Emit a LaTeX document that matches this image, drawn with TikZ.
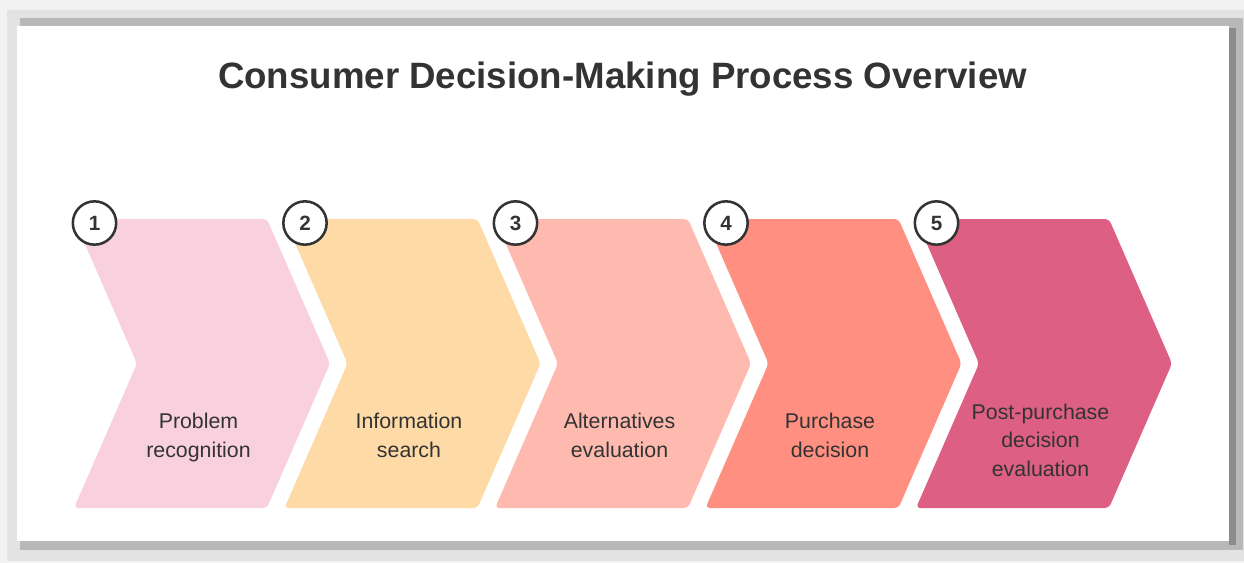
\documentclass[tikz,border=0pt]{standalone}
\usepackage{fontspec}
\setmainfont{Liberation Sans}
\definecolor{inkGray}{HTML}{333333}
\definecolor{stepPink}{HTML}{F9D1DE}
\definecolor{stepPeach}{HTML}{FEDAA7}
\definecolor{stepSalmon}{HTML}{FFBAB0}
\definecolor{stepCoral}{HTML}{FF8F80}
\definecolor{stepRose}{HTML}{DD5F84}

\begin{document}
\begin{tikzpicture}[
  x=0.75pt, y=-0.75pt,
  ttl/.style={anchor=base, inner sep=0pt, text=inkGray, font=\bfseries\fontsize{27.5}{33}\selectfont},
  num/.style={circle, draw=inkGray, line width=1.9pt, fill=white, minimum size=32.5pt, inner sep=0pt, text=inkGray, font=\bfseries\fontsize{15.5}{18}\selectfont},
  lbl/.style={anchor=north, align=center, inner sep=0pt, text=inkGray, font=\fontsize{16}{21.5}\selectfont}
]
  \useasboundingbox (0,0) rectangle (1244,563);

  % card with its shadow
  \fill[black!5] (0,0) rectangle (1244,563);
  \fill[black!11] (7,10) rectangle (1244,561);
  \fill[black!28] (20,18) rectangle (1243,550);
  \fill[black!45] (1229,28) rectangle (1236,545);
  \fill[white] (17,26) rectangle (1229,541);

  \node[ttl] (title) at (622.5,89) {Consumer Decision-Making Process Overview};

  % chevrons, step numbers and captions
  \foreach \n/\col/\ty/\txt in {1/stepPink/413/{Problem\\recognition},
                               2/stepPeach/413/{Information\\search},
                               3/stepSalmon/413/{Alternatives\\evaluation},
                               4/stepCoral/413/{Purchase\\decision},
                               5/stepRose/403.5/{Post-purchase\\decision\\evaluation}} {
    \pgfmathsetmacro{\xo}{74+210.5*(\n-1)}
    \fill[\col, rounded corners=3pt] (\xo,219) -- ++(193,0) -- ++(63,144.5) -- ++(-63,144.5)
      -- ++(-193,0) -- ++(63,-144.5) -- cycle;
    \node[num] (num\n) at (\xo+20.5,223) {\n};
    \node[lbl] (step\n) at (\xo+124.5,\ty) {\txt};
  }
\end{tikzpicture}
\end{document}
